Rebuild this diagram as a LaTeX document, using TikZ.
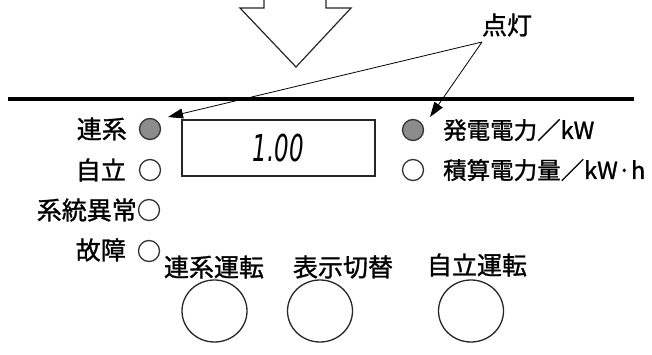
\documentclass[tikz,border=0pt]{standalone}
\usepackage{fontspec}
\newfontfamily\jp[FakeBold=1.2]{Noto Sans CJK JP}
\newfontfamily\seg{DejaVu Sans}
\usetikzlibrary{arrows.meta,shapes.geometric}
\begin{document}
\begin{tikzpicture}[x=1pt,y=-1pt,
  lbl/.style={font=\jp\fontsize{25}{25}\selectfont, inner sep=0pt},
  lblr/.style={font=\jp\fontsize{23.5}{23.5}\selectfont, inner sep=0pt, anchor=west},
  led/.style={circle, draw=black!80, line width=1.3pt, minimum size=21pt, inner sep=0pt},
  ledon/.style={led, fill=black!45},
  btn/.style={ellipse, draw=black!85, line width=1.3pt, minimum width=65pt, minimum height=62pt, inner sep=0pt},
  pointer/.style={line width=0.8pt, -{Triangle[length=15pt,width=10pt]}}]
\useasboundingbox (0,0) rectangle (652,355);
% big hollow arrow
\draw[line width=1.2pt, draw=black!85, line join=miter] (264,-3) -- (264,8) -- (240,8) -- (296,67) -- (351,8) -- (326,8) -- (326,-3);
% thick panel edge
\draw[line width=4.5pt] (8,99) -- (634,99);
% display
\node[draw=black!85, line width=1.3pt, minimum width=193pt, minimum height=56pt, inner sep=0pt] (disp) at (278.5,148)
  {\seg\itshape\fontsize{37}{37}\selectfont\scalebox{0.62}[1]{1.00}};
% left LEDs
\node[ledon] (l1) at (150,129) {};
\node[led] (l2) at (150,170) {};
\node[led] (l3) at (149,210) {};
\node[led] (l4) at (149,251) {};
\node[lbl, anchor=east] (t1) at (127,129) {連系};
\node[lbl, anchor=east] (t2) at (126,170) {自立};
\node[lbl, anchor=east] (t3) at (137,210) {系統異常};
\node[lbl, anchor=east] (t4) at (126,250) {故障};
% right LEDs
\node[ledon] (r1) at (413,130) {};
\node[led] (r2) at (413,170) {};
\node[lblr] (s1) at (443,130) {発電電力／kW};
\node[lblr] (s2) at (443,170) {積算電力量／kW·h};
% buttons
\node[lbl] (c1) at (214,267) {連系運転};
\node[lbl] (c2) at (343,267) {表示切替};
\node[lbl] (c3) at (477,265) {自立運転};
\node[btn] (b1) at (214.5,311) {};
\node[btn] (b2) at (320,311) {};
\node[btn] (b3) at (471,311) {};
% lamp label and pointers
\node[lbl] (lamp) at (507,25) {点灯};
\coordinate (src) at (482,42);
\coordinate (tipA) at (168,117);
\coordinate (tipB) at (430,117);
\draw[pointer] (src) -- (tipA);
\draw[pointer] (src) -- (tipB);
\end{tikzpicture}
\end{document}
